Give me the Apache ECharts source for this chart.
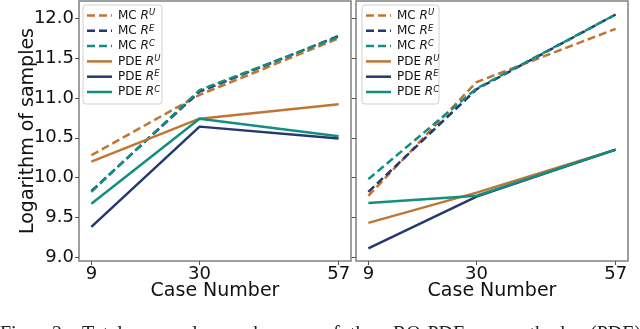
<!DOCTYPE html>
<html>
<head>
<meta charset="utf-8">
<script src="https://cdn.jsdelivr.net/npm/echarts@6/dist/echarts.min.js"></script>
<style>html,body{margin:0;padding:0;background:#fff;}#c{width:640px;height:329px;}</style>
</head>
<body>
<div id="c"></div>
<script>
var caseNumbers = [9, 30, 57];
var yTicks = [9.0, 9.5, 10.0, 10.5, 11.0, 11.5, 12.0];
var seriesNames = ['MC R^U', 'MC R^E', 'MC R^C', 'PDE R^U', 'PDE R^E', 'PDE R^C'];

// left panel
var leftMcU = [10.28, 11.04, 11.75];
var leftMcE = [9.83, 11.08, 11.78];
var leftMcC = [9.82, 11.10, 11.77];
var leftPdeU = [10.20, 10.74, 10.92];
var leftPdeE = [9.38, 10.64, 10.49];
var leftPdeC = [9.67, 10.74, 10.52];

// right panel
var rightMcU = [9.77, 11.20, 11.87];
var rightMcE = [9.82, 11.11, 12.05];
var rightMcC = [9.98, 11.12, 12.05];
var rightPdeU = [9.43, 9.81, 10.35];
var rightPdeE = [9.11, 9.76, 10.35];
var rightPdeC = [9.68, 9.77, 10.35];

var captionWords = ['Fig.', '2:', 'Total', 'sample', 'numbers', 'of', 'the', 'RO-PDE', 'method', '(PDE)'];
var captionX = [0, 52, 82, 150, 218, 323, 350, 393, 505, 590];

var ORANGE = '#c07632', NAVY = '#243872', TEAL = '#138f80';
var colors = [ORANGE, NAVY, TEAL, ORANGE, NAVY, TEAL];
var FONT = 'DejaVu Sans';
var DASH = [8, 4];

function pairs(vals) { return caseNumbers.map(function (x, i) { return [x, vals[i]]; }); }

var leftData = [leftMcU, leftMcE, leftMcC, leftPdeU, leftPdeE, leftPdeC];
var rightData = [rightMcU, rightMcE, rightMcC, rightPdeU, rightPdeE, rightPdeC];

var series = [];
[leftData, rightData].forEach(function (set, g) {
  set.forEach(function (vals, i) {
    series.push({
      type: 'line', name: seriesNames[i], xAxisIndex: g, yAxisIndex: g,
      data: pairs(vals), symbol: 'none', animation: false,
      lineStyle: { color: colors[i], width: 2.5, type: i < 3 ? DASH : 'solid' },
      itemStyle: { color: colors[i] }
    });
  });
});

function xAxis(g) {
  return {
    type: 'value', gridIndex: g, min: 6.6, max: 59.4,
    name: 'Case Number', nameLocation: 'middle', nameGap: 21, nameMoveOverlap: false,
    nameTextStyle: { fontFamily: FONT, fontSize: 19, color: '#111' },
    axisLine: { show: false },
    axisTick: { show: true, length: 4, lineStyle: { color: '#555' }, customValues: caseNumbers },
    axisLabel: { customValues: caseNumbers, fontFamily: FONT, fontSize: 18, color: '#111', margin: 4 },
    splitLine: { show: false }
  };
}
function yAxis(g) {
  return {
    type: 'value', gridIndex: g, min: 8.95, max: 12.22,
    name: g === 0 ? 'Logarithm of samples' : '', nameLocation: 'middle', nameGap: 41, nameMoveOverlap: false,
    nameTextStyle: { fontFamily: FONT, fontSize: 19, color: '#111' },
    axisLine: { show: false },
    axisTick: { show: true, length: 4, lineStyle: { color: '#555' }, customValues: yTicks },
    axisLabel: { show: g === 0, customValues: yTicks, fontFamily: FONT, fontSize: 18, color: '#111', margin: 5,
      formatter: function (v) { return v.toFixed(1); } },
    splitLine: { show: false }
  };
}

// hand-drawn legend boxes (matplotlib-style)
function legendGroup(x0, w) {
  var children = [{
    type: 'rect', shape: { x: 0, y: 0, width: w, height: 99, r: 3 },
    style: { fill: 'rgba(255,255,255,0.85)', stroke: '#d0d0d0', lineWidth: 1 }
  }];
  seriesNames.forEach(function (n, i) {
    var y = 10.5 + i * 15.3;
    children.push({
      type: 'line', shape: { x1: 4, y1: y, x2: 29, y2: y },
      style: { stroke: colors[i], lineWidth: 2.5, lineDash: i < 3 ? DASH : null }
    });
    var p = n.split(' '), sup = p[1].split('^');
    children.push({
      type: 'text', x: 35, y: y, style: {
        text: p[0] + ' {i|' + sup[0] + '}{s|' + sup[1] + '}',
        font: '12px "DejaVu Sans"', fill: '#111', verticalAlign: 'middle',
        rich: {
          i: { fontFamily: FONT, fontStyle: 'italic', fontSize: 12, lineHeight: 14, fill: '#111' },
          s: { fontFamily: FONT, fontStyle: 'italic', fontSize: 8.5, lineHeight: 14, verticalAlign: 'top', fill: '#111' }
        }
      }
    });
  });
  return { type: 'group', x: x0, y: 5, z: 100, silent: true, children: children };
}

var captionGraphics = captionWords.map(function (w, i) {
  return { type: 'text', left: captionX[i], top: 325, silent: true,
    style: { text: w, font: '20px "Liberation Serif"', fill: '#222' } };
});

var option = {
  animation: false,
  grid: [
    { left: 79, right: 289, top: 1, bottom: 68, show: true, borderColor: '#808080', borderWidth: 1.5, backgroundColor: 'transparent' },
    { left: 356, right: 12, top: 1, bottom: 68, show: true, borderColor: '#808080', borderWidth: 1.5, backgroundColor: 'transparent' }
  ],
  xAxis: [xAxis(0), xAxis(1)],
  yAxis: [yAxis(0), yAxis(1)],
  series: series,
  graphic: [legendGroup(83, 79), legendGroup(362, 77)].concat(captionGraphics)
};

var chart = echarts.init(document.getElementById('c'), null, { renderer: 'canvas' });
chart.setOption(option);
</script>
</body>
</html>
